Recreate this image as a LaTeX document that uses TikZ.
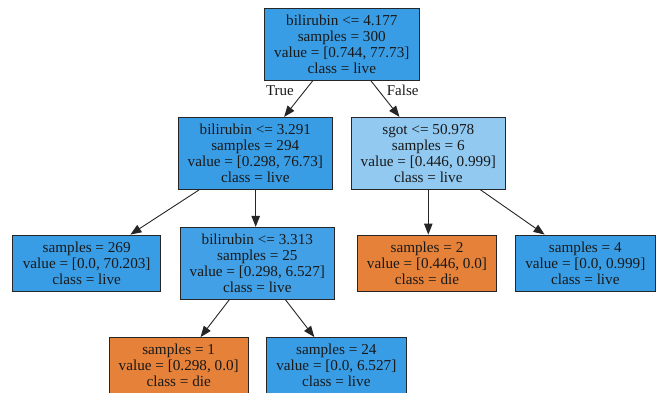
\documentclass[tikz,border=0pt]{standalone}
\usepackage{fontspec}
\setmainfont{Liberation Serif}
\usetikzlibrary{arrows.meta}
\definecolor{liveC}{RGB}{57,157,229}
\definecolor{liveB}{RGB}{66,161,230}
\definecolor{liveL}{RGB}{145,201,241}
\definecolor{dieC}{RGB}{229,129,57}
\tikzset{
  tree/.style={draw=black!85, line width=0.9pt, inner sep=0pt, align=center,
    font=\fontsize{15.2}{16}\selectfont, text=black!90},
  big/.style={tree, minimum width=155pt, minimum height=72pt},
  leaf/.style={tree, minimum width=139.3pt, minimum height=56pt},
  edge/.style={draw=black!85, line width=0.9pt, -{Triangle[length=11pt,width=8.5pt]}},
  elabel/.style={font=\fontsize{15}{16}\selectfont, text=black!90}
}
\begin{document}
\begin{tikzpicture}[x=1pt,y=-1pt]
\useasboundingbox (0,0) rectangle (657,392);
\node[big, fill=liveC] (root) at (341.8,44) {bilirubin <= 4.177\\samples = 300\\value = [0.744, 77.73]\\class = live};
\node[big, fill=liveC, minimum width=154.7pt] (l1) at (255.3,153.3) {bilirubin <= 3.291\\samples = 294\\value = [0.298, 76.73]\\class = live};
\node[big, fill=liveL, minimum width=153.3pt] (r1) at (428.3,153.3) {sgot <= 50.978\\samples = 6\\value = [0.446, 0.999]\\class = live};
\node[leaf, fill=liveC, minimum width=148pt] (s269) at (86.7,263) {samples = 269\\value = [0.0, 70.203]\\class = live};
\node[big, fill=liveB, minimum width=154.7pt] (n3313) at (257.3,263.3) {bilirubin <= 3.313\\samples = 25\\value = [0.298, 6.527]\\class = live};
\node[leaf, fill=dieC] (s2) at (427,263) {samples = 2\\value = [0.446, 0.0]\\class = die};
\node[leaf, fill=liveC] (s4) at (585.3,263) {samples = 4\\value = [0.0, 0.999]\\class = live};
\node[leaf, fill=dieC, minimum width=138.7pt] (s1) at (178.7,365.5) {samples = 1\\value = [0.298, 0.0]\\class = die};
\node[leaf, fill=liveC] (s24) at (336.3,365.5) {samples = 24\\value = [0.0, 6.527]\\class = live};
\draw[edge] (root) -- (l1);
\draw[edge] (root) -- (r1);
\draw[edge] (l1) -- (s269);
\draw[edge] (l1.south -| 255.7,0) -- (n3313.north -| 255.7,0);
\draw[edge] (r1.south -| 428.3,0) -- (s2.north -| 428.3,0);
\draw[edge] (r1) -- (s4);
\draw[edge] (n3313) -- (s1);
\draw[edge] (n3313) -- (s24);
\node[elabel] (t) at (280,90.7) {True};
\node[elabel] (f) at (402.7,90.7) {False};
\end{tikzpicture}
\end{document}
